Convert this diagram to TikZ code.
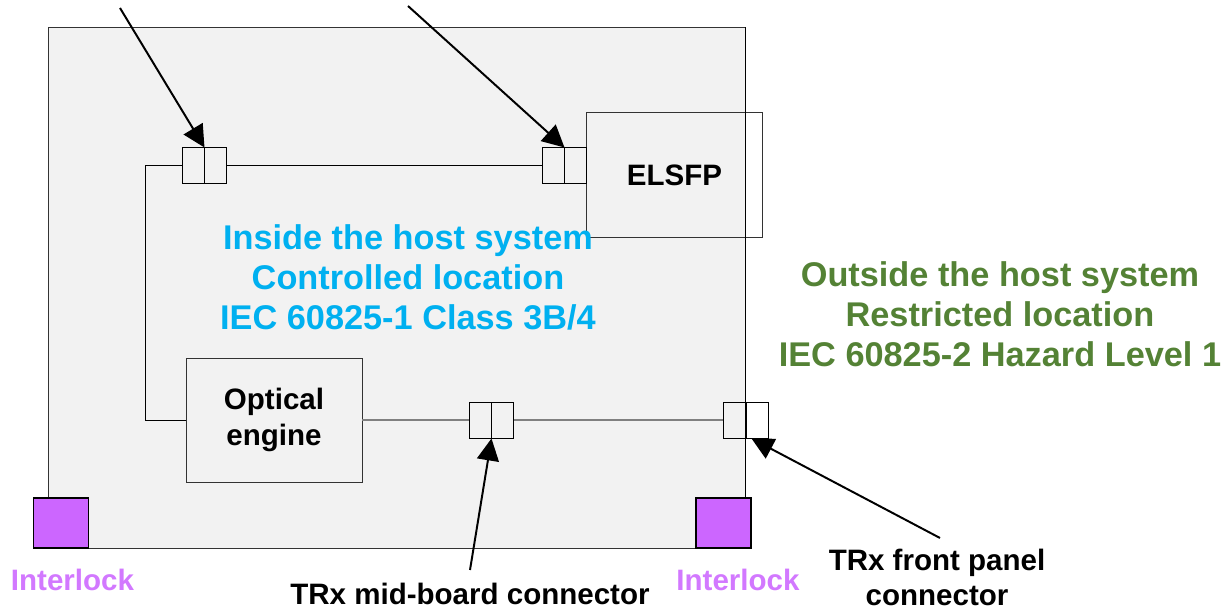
\documentclass[tikz,border=0pt]{standalone}
\usepackage{fontspec}
\setmainfont{Liberation Sans}
\usepackage{tikz}
\usetikzlibrary{arrows.meta,positioning}
\usepackage{xcolor}
\definecolor{cHost}{RGB}{242,242,242}
\definecolor{cCyan}{RGB}{0,176,240}
\definecolor{cGreen}{RGB}{84,130,53}
\definecolor{cLock}{RGB}{204,102,255}
\definecolor{cLockTxt}{RGB}{210,120,255}
\definecolor{cWire}{RGB}{128,128,128}
\tikzset{
  basebox/.style={rectangle,draw=black!80,line width=0.7pt,align=center,
                  font=\fontsize{21}{25}\selectfont\bfseries},
  hostbox/.style={basebox,fill=cHost,minimum width=17.425cm,
                  minimum height=13cm},
  modbox/.style={basebox,minimum width=4.4cm,minimum height=3.1cm},
  conbox/.style={rectangle,draw=black,line width=0.7pt,
                 minimum width=0.55cm,minimum height=0.9cm,inner sep=0pt},
  lockbox/.style={rectangle,draw=black,line width=1.4pt,fill=cLock,
                  minimum width=1.375cm,minimum height=1.25cm},
  zonetxt/.style={align=center,font=\fontsize{24.4}{28.5}\selectfont\bfseries},
  labtxt/.style={align=center,inner sep=0pt,
                 font=\fontsize{21}{24.9}\selectfont\bfseries},
  wire/.style={draw=black,line width=0.7pt},
  graywire/.style={draw=cWire,line width=1.2pt},
  arr/.style={-{Triangle[length=0.55cm,width=0.55cm]},line width=1.4pt}
}
\begin{document}
\begin{tikzpicture}
  \useasboundingbox (0,0) rectangle (30.8,15.275);

  % Host system
  \node[hostbox] (host) at (9.9125,8.075) {};

  % Modules
  \node[modbox] (elsfp) at (16.8625,10.9) {ELSFP};
  \node[modbox] (eng) at (6.85,4.775) {Optical\\engine};

  % Connectors
  \node[conbox] (tlA) at (4.825,11.125) {};
  \node[conbox,right=0pt of tlA] (tlB) {};
  \node[conbox] (trA) at (13.825,11.125) {};
  \node[conbox,right=0pt of trA] (trB) {};
  \node[conbox] (mbA) at (12.0,4.775) {};
  \node[conbox,right=0pt of mbA] (mbB) {};
  \node[conbox] (fpA) at (18.35,4.775) {};
  \node[conbox,right=0pt of fpA] (fpB) {};

  % Wiring
  \draw[wire] (eng.west) -- ++(-1,0) |- (tlA.west);
  \draw[wire] (tlB.east) -- (trA.west);
  \draw[graywire] (eng.east) -- (mbA.west);
  \draw[graywire] (mbB.east) -- (fpA.west);
  \draw[line width=1.2pt] (host.north east) -- (host.south east);

  % Interlocks
  \node[lockbox] (lockL) at (1.525,2.2) {};
  \node[lockbox] (lockR) at (18.0875,2.2) {};
  \node[labtxt,text=cLockTxt] (lockLtxt) at (1.8125,0.775) {Interlock};
  \node[labtxt,text=cLockTxt] (lockRtxt) at (18.45,0.775) {Interlock};

  % Zones
  \node[zonetxt,text=cCyan] (inside) at (10.2,8.35)
      {Inside the host system\\Controlled location\\IEC 60825-1 Class 3B/4};
  \node[zonetxt,text=cGreen] (outside) at (25.0,7.425)
      {Outside the host system\\Restricted location\\IEC 60825-2 Hazard Level 1};

  % Connector labels
  \node[labtxt] (mbtxt) at (11.75,0.42) {TRx mid-board connector};
  \node[labtxt] (fptxt) at (23.425,0.84) {TRx front panel\\connector};

  % Pointers
  \coordinate (tlS) at (3.0,15.075);
  \coordinate (trS) at (10.2,15.125);
  \coordinate (mbS) at (11.75,1.025);
  \coordinate (fpS) at (23.5,1.825);
  \draw[arr] (tlS) -- (tlA.north east);
  \draw[arr] (trS) -- (trA.north east);
  \draw[arr] (mbS) -- (mbA.south east);
  \draw[arr] (fpS) -- ([xshift=0.15cm]fpA.south east);

\end{tikzpicture}
\end{document}
